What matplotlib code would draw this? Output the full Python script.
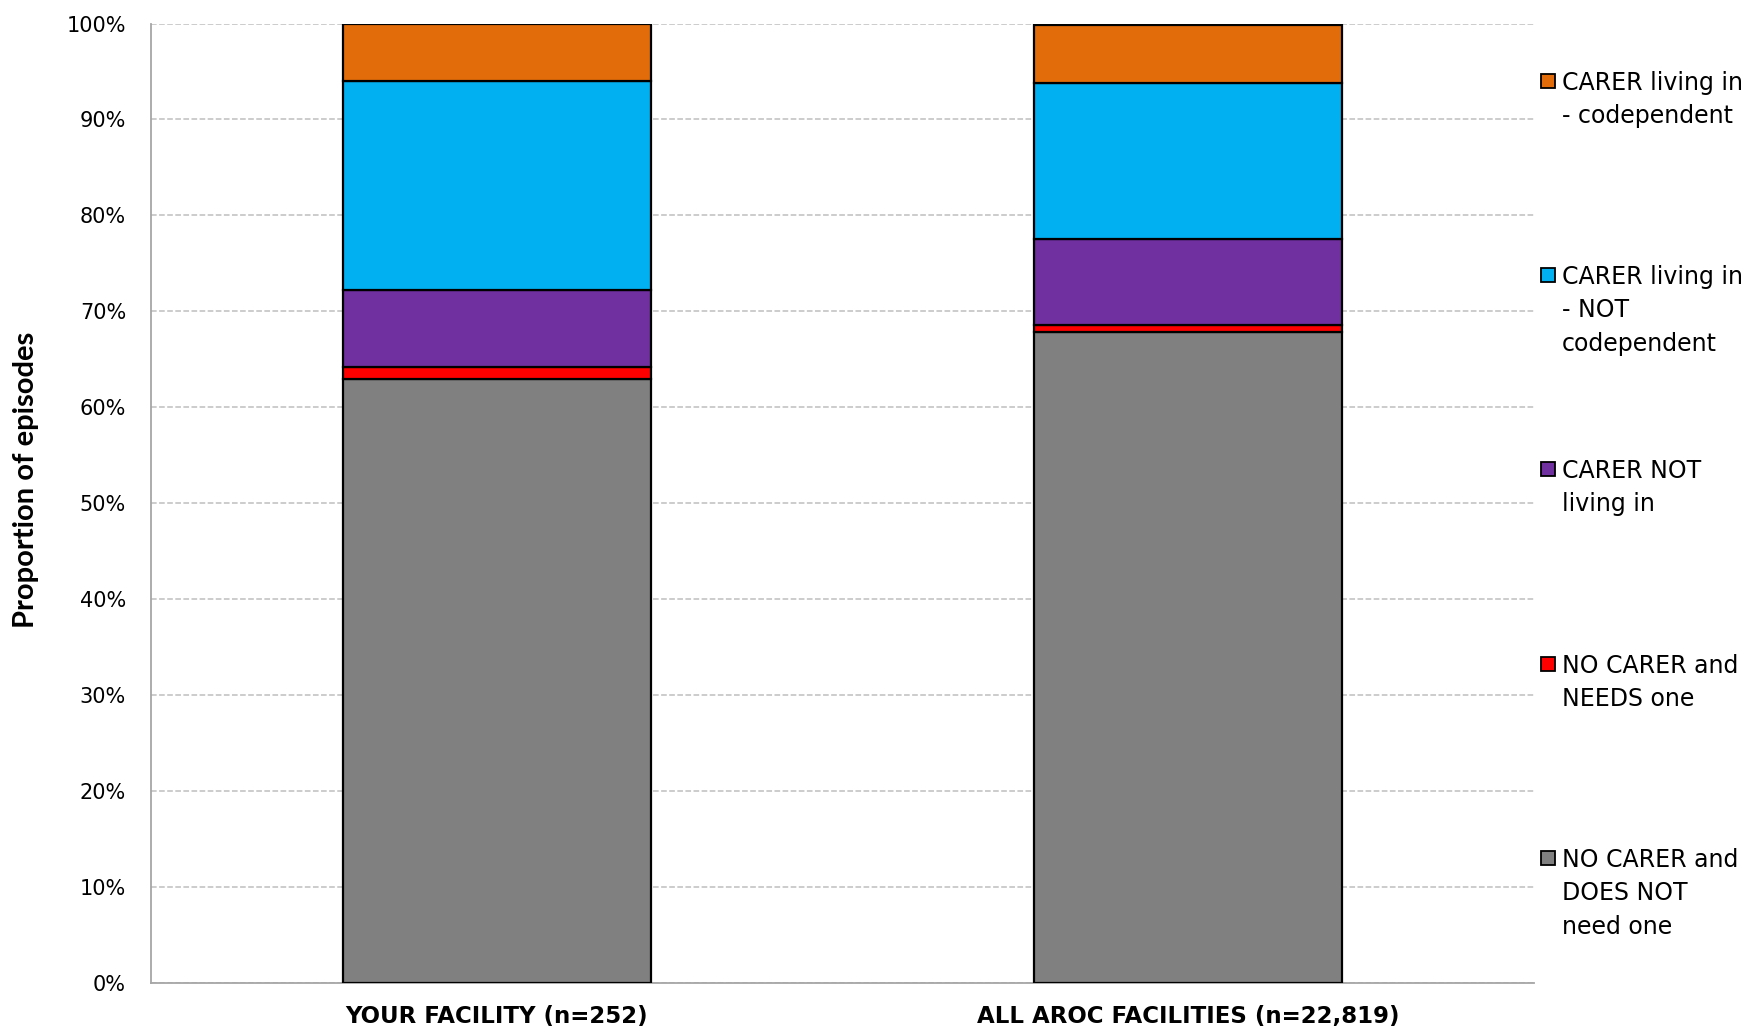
import matplotlib.pyplot as plt
from matplotlib.patches import Rectangle

plt.rcParams['font.family'] = ['DejaVu Sans']

categories = ['YOUR FACILITY (n=252)', 'ALL AROC FACILITIES (n=22,819)']
series_names = ['NO CARER and\nDOES NOT\nneed one',
                'NO CARER and\nNEEDS one',
                'CARER NOT\nliving in',
                'CARER living in\n- NOT\ncodependent',
                'CARER living in\n- codependent']
no_carer_not_needed = [63.0, 67.8]
no_carer_needs = [1.2, 0.8]
carer_not_living_in = [8.0, 8.9]
carer_living_not_codep = [21.8, 16.3]
carer_living_codep = [6.0, 6.0]
colors = ['#808080', '#FF0000', '#7030A0', '#00B0F0', '#E36C0A']

series = [no_carer_not_needed, no_carer_needs, carer_not_living_in,
          carer_living_not_codep, carer_living_codep]

fig = plt.figure(figsize=(17.58, 10.31), dpi=100)
ax = fig.add_axes([0.0859, 0.0466, 0.7867, 0.9306])

x = range(len(categories))
bottom = [0, 0]
for vals, c in zip(series, colors):
    ax.bar(x, vals, bottom=bottom, width=0.446, color=c,
           edgecolor='black', linewidth=1.6, zorder=3)
    bottom = [b + v for b, v in zip(bottom, vals)]

ax.set_xlim(-0.5, 1.5)
ax.set_ylim(0, 100)
ax.set_yticks(range(0, 101, 10))
ax.set_yticklabels([f'{v}%' for v in range(0, 101, 10)], fontsize=15)
ax.set_xticks(list(x))
ax.set_xticklabels(categories, fontsize=16.5, fontweight='bold')
ax.tick_params(axis='y', length=0, pad=18)
ax.tick_params(axis='x', length=0, pad=16)
ax.yaxis.grid(True, color='#BFBFBF', linestyle='--', linewidth=1.1, zorder=0)
ax.set_axisbelow(True)
for s in ['top', 'right']:
    ax.spines[s].set_visible(False)
for s in ['left', 'bottom']:
    ax.spines[s].set_color('#A6A6A6')
    ax.spines[s].set_linewidth(1.3)

ax.set_ylabel('Proportion of episodes', fontsize=21, fontweight='bold',
              family=['Lato', 'DejaVu Sans'])
ax.yaxis.set_label_coords(-0.081, 0.524)

# legend, top entry first, evenly spaced
W, H = 1758, 1031
centers = [81, 275, 469, 664, 858]
for i, (name, c) in enumerate(zip(series_names[::-1], colors[::-1])):
    cy = centers[i]
    fig.patches.append(Rectangle((1541 / W, 1 - (cy + 7) / H), 14 / W, 14 / H,
                                 facecolor=c, edgecolor='black', linewidth=1.3,
                                 transform=fig.transFigure))
    fig.text(1562 / W, 1 - (cy - 10) / H, name, fontsize=17, va='top',
             ha='left', linespacing=1.5)

fig.savefig('out.png', dpi=100)
